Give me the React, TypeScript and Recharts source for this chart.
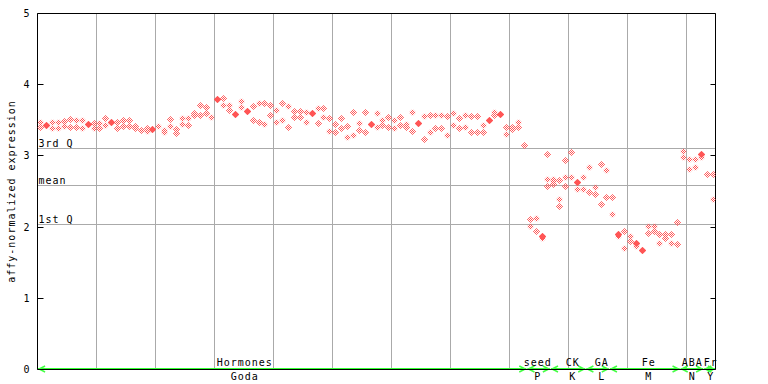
import React from 'react';
import { ScatterChart, Scatter, XAxis, YAxis, ReferenceLine } from 'recharts';

const RED = '#ff5555';
const GREEN = '#33ff33';
const ARROW = '#44ff44';
const GRID = '#aaaaaa';
const FONT = '"DejaVu Sans Mono", monospace';
const TXT: React.CSSProperties = { fontFamily: FONT, fontSize: 10, letterSpacing: 1 };

// Replicate values per sample column, grouped by experiment set
const GODA: number[][] = [
  [3.47, 3.40], [3.43, 3.43], [3.47, 3.39], [3.47, 3.39], [3.49, 3.42], [3.52, 3.40], [3.51, 3.40], [3.50, 3.39],
  [3.45, 3.45], [3.46, 3.39], [3.46, 3.39], [3.53, 3.44], [3.47, 3.47], [3.47, 3.39], [3.51, 3.42], [3.50, 3.42],
  [3.42, 3.39], [3.36], [3.39, 3.35], [3.38, 3.38], [3.42], [3.37, 3.34], [3.52, 3.42], [3.38, 3.32],
  [3.53, 3.45], [3.53, 3.44], [3.60, 3.58], [3.71, 3.58], [3.68, 3.60], [3.55], [3.80, 3.80], [3.82, 3.71],
  [3.71, 3.64], [3.59, 3.59], [3.77, 3.69], [3.63, 3.63], [3.70, 3.51], [3.74, 3.48], [3.74, 3.45], [3.72, 3.58],
  [3.65, 3.48], [3.74, 3.51], [3.70, 3.40], [3.63, 3.54], [3.63, 3.55], [3.62, 3.48], [3.60, 3.60], [3.67, 3.46],
  [3.67, 3.55], [3.53, 3.35], [3.45, 3.34], [3.53, 3.39], [3.42, 3.27], [3.62, 3.30], [3.46, 3.37], [3.61, 3.34],
  [3.45, 3.45], [3.60, 3.40], [3.51, 3.44], [3.55, 3.40], [3.51, 3.39], [3.54, 3.43], [3.45, 3.40], [3.61, 3.35],
  [3.46, 3.46], [3.56, 3.24], [3.57, 3.34], [3.58, 3.39], [3.57, 3.39], [3.56, 3.29], [3.60, 3.44], [3.53, 3.39],
  [3.58, 3.40], [3.56, 3.34], [3.56, 3.33], [3.44, 3.33], [3.51, 3.51], [3.62, 3.58], [3.59, 3.59], [3.41, 3.31],
  [3.41, 3.38], [3.47, 3.40], [3.16],
];
const SEED: number[][] = [[2.11, 2.02], [2.13, 1.95], [1.87, 1.87, 1.84], [3.02, 2.68, 2.58]];
const CK: number[][] = [[2.68, 2.65, 2.61], [2.66, 2.40, 2.30], [2.94, 2.70, 2.58], [3.05, 2.71], [2.63, 2.63, 2.54], [2.70, 2.53]];
const GA: number[][] = [[2.84, 2.50], [2.57, 2.47], [2.89, 2.32], [2.80, 2.42]];
const FE: number[][] = [
  [2.42, 2.19], [1.91, 1.91, 1.87], [1.94, 1.70], [1.88, 1.80], [1.77, 1.77, 1.73], [1.68, 1.68],
  [2.01, 1.92], [2.02, 1.94], [1.90, 1.77], [1.91, 1.84], [1.91, 1.78], [2.07, 1.76],
];
const ABA: number[][] = [[3.07, 2.99], [2.96, 2.82], [2.95, 2.85], [3.03, 3.03, 2.99]];
const FR: number[][] = [[2.74], [2.74, 2.39]];

const GROUP_DATA = [GODA, SEED, CK, GA, FE, ABA, FR];
const GROUP_TOP = ['Hormones', 'seed', 'CK', 'GA', 'Fe', 'ABA', 'Fr'];
const GROUP_BOTTOM = ['Goda', 'P', 'K', 'L', 'M', 'N', 'Y'];
const GROUP_LABEL_POS = [34.65, 84.35, 90.3, 95.2, 103.2, 110.55, 113.7];

const STAT_NAMES = ['3rd Q', 'mean', '1st Q'];
const STAT_VALUES = [3.108, 2.588, 2.04];
const Y_TICKS = [0, 1, 2, 3, 4, 5];

type Pt = { x: number; y: number; solid: boolean };
const points: Pt[] = [];
const ranges: [number, number][] = [];
let colIdx = 0;
GROUP_DATA.forEach((g) => {
  const start = colIdx;
  g.forEach((vals) => {
    vals.forEach((v) => {
      const solid = vals.filter((w) => Math.abs(w - v) < 0.005).length > 1;
      points.push({ x: colIdx, y: v, solid });
    });
    colIdx++;
  });
  ranges.push([start, colIdx - 1]);
});
const N_COLS = colIdx;
const GRID_COLS = Array.from({ length: Math.floor((N_COLS - 1) / 10) }, (_, k) => 10 * (k + 1) - 0.5);

const Diamond = (p: any) => {
  if (p.cx == null || p.cy == null || !p.payload) return <g />;
  const x = Math.round(p.cx) + 0.5;
  const y = Math.round(p.cy) + 0.5;
  const r = 3.6;
  return (
    <polygon
      points={`${x},${y - r} ${x + r},${y} ${x},${y + r} ${x - r},${y}`}
      fill={p.payload.solid ? RED : 'url(#chk)'}
    />
  );
};

const XTick = (p: any) => {
  const i = GROUP_LABEL_POS.indexOf(p.payload.value);
  if (i < 0) return <g />;
  return (
    <g>
      <text x={p.x} y={p.y - 3.2} textAnchor="middle" fill="#000" style={TXT}>{GROUP_TOP[i]}</text>
      <text x={p.x} y={p.y + 10} textAnchor="middle" fill="#000" style={TXT}>{GROUP_BOTTOM[i]}</text>
    </g>
  );
};

const LTick = (p: any) => {
  const y = Math.floor(p.y) + 0.5;
  return (
    <g>
      <line x1={p.x} x2={p.x + 6} y1={y} y2={y} stroke="#000" />
      <text x={p.x - 7} y={y + 3.6} textAnchor="end" fill="#000" style={TXT}>{p.payload.value}</text>
    </g>
  );
};

const RTick = (p: any) => {
  const y = Math.floor(p.y) + 0.5;
  return <line x1={p.x - 5} x2={p.x} y1={y} y2={y} stroke="#000" />;
};

const VGrid = (p: any) => {
  const x = Math.floor(p.x1) + 0.5;
  return <line x1={x} x2={x} y1={p.y1} y2={p.y2} stroke={GRID} />;
};

const makeStat = (name: string) => (p: any) => {
  const y = Math.floor(p.y1) + 0.5;
  return (
    <g>
      <line x1={p.x1} x2={p.x2} y1={y} y2={y} stroke={GRID} />
      <text x={Math.min(p.x1, p.x2) + 1} y={y - 2} fill="#000" stroke="none" style={TXT}>{name}</text>
    </g>
  );
};

const GroupLine = (p: any) => {
  const y = Math.floor(p.y1);
  const a = Math.min(p.x1, p.x2);
  const b = Math.max(p.x1, p.x2);
  return (
    <g>
      <line x1={a} x2={b} y1={y} y2={y} stroke={GREEN} strokeWidth={2} />
      <polyline points={`${a + 7},${y - 3} ${a + 1},${y} ${a + 7},${y + 3}`} fill="none" stroke={ARROW} strokeWidth={1.5} />
      <polyline points={`${b - 7},${y - 3} ${b - 1},${y} ${b - 7},${y + 3}`} fill="none" stroke={ARROW} strokeWidth={1.5} />
    </g>
  );
};

const TopLine = (p: any) => {
  const y = Math.floor(p.y1) + 0.5;
  return <line x1={p.x1} x2={p.x2} y1={y} y2={y} stroke="#000" />;
};

export default function App() {
  return (
    <div style={{ position: 'absolute', left: 0, top: 0, width: 768, height: 384, background: '#fff' }}>
      <svg width={1} height={1} style={{ position: 'absolute', left: -10, top: -10 }}>
        <defs>
          <pattern id="chk" width={2} height={2} patternUnits="userSpaceOnUse">
            <rect x={0} y={0} width={1} height={1} fill={RED} />
            <rect x={1} y={1} width={1} height={1} fill={RED} />
          </pattern>
        </defs>
      </svg>
      <ScatterChart width={768} height={384} margin={{ top: 13.5, right: 0, bottom: 0, left: 0 }}>
        <XAxis
          type="number"
          dataKey="x"
          domain={[-0.5, N_COLS - 0.5]}
          ticks={GROUP_LABEL_POS}
          interval={0}
          tick={<XTick />}
          tickLine={false}
          tickSize={0}
          tickMargin={0}
          axisLine={{ stroke: '#000' }}
          height={14.5}
          allowDataOverflow
        />
        <YAxis
          yAxisId="l"
          type="number"
          dataKey="y"
          domain={[0, 5]}
          ticks={Y_TICKS}
          interval={0}
          width={37.5}
          tick={<LTick />}
          tickLine={false}
          tickSize={0}
          tickMargin={0}
          axisLine={{ stroke: '#000' }}
          allowDataOverflow
        />
        <YAxis
          yAxisId="r"
          orientation="right"
          type="number"
          domain={[0, 5]}
          ticks={Y_TICKS}
          interval={0}
          width={52.5}
          tick={<RTick />}
          tickLine={false}
          tickSize={0}
          tickMargin={0}
          axisLine={{ stroke: '#000' }}
          allowDataOverflow
        />
        {GRID_COLS.map((c) => (
          <ReferenceLine key={'g' + c} yAxisId="l" x={c} shape={VGrid} />
        ))}
        {STAT_VALUES.map((v, i) => (
          <ReferenceLine key={'s' + i} yAxisId="l" y={v} shape={makeStat(STAT_NAMES[i])} />
        ))}
        <ReferenceLine yAxisId="l" y={5} shape={TopLine} />
        {ranges.map(([s, e], i) => (
          <ReferenceLine
            key={'r' + i}
            yAxisId="l"
            segment={[{ x: s - 0.4, y: 0 }, { x: e + 0.4, y: 0 }]}
            shape={GroupLine}
          />
        ))}
        <Scatter yAxisId="l" data={points} shape={Diamond} isAnimationActive={false} />
      </ScatterChart>
      <svg width={768} height={384} style={{ position: 'absolute', left: 0, top: 0, pointerEvents: 'none' }}>
        <text transform="translate(14.5,191.5) rotate(-90)" textAnchor="middle" fill="#000" style={TXT}>
          affy-normalized expression
        </text>
      </svg>
    </div>
  );
}
